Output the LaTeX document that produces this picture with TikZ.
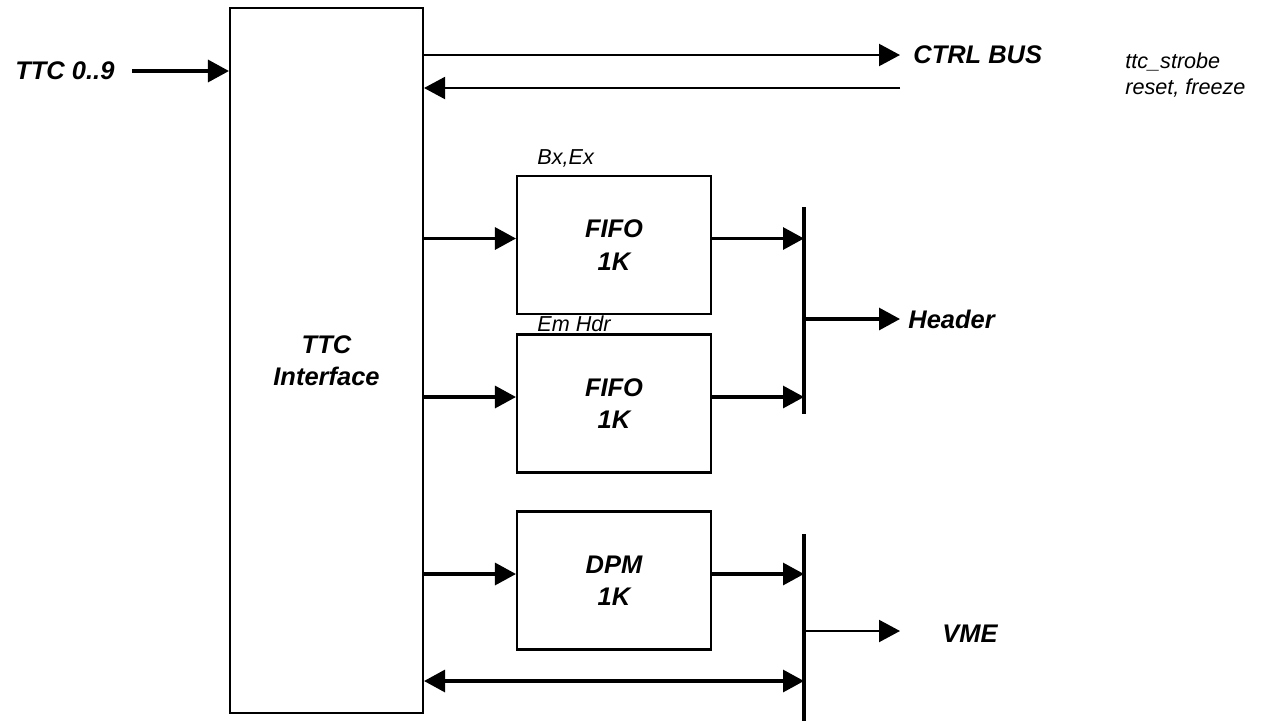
\documentclass[tikz,border=0pt]{standalone}
\usepackage{fontspec}
\setmainfont{Liberation Sans}
\usetikzlibrary{arrows.meta}
\usetikzlibrary{positioning}
\tikzset{blk/.style = {draw, line width = 1.2pt, minimum width = 3.88cm, minimum height = 2.76cm,
    align = center, font = \fontsize{14.5}{18.5}\selectfont\bfseries\itshape}}
\tikzset{lbl/.style = {anchor = west, inner sep = 0, font = \fontsize{14.5}{17}\selectfont\bfseries\itshape}}
\tikzset{note/.style = {anchor = west, inner sep = 0, font = \fontsize{12.3}{14}\selectfont\itshape}}
\tikzset{tip/.tip = {Triangle[length = 0.42cm, width = 0.44cm]}}
\tikzset{sig/.style = {line width = 1.8pt, -tip}}
\tikzset{bus/.style = {line width = 1.8pt}}

\begin{document}
\begin{tikzpicture}[x = 0.02cm, y = -0.02cm]
      \useasboundingbox (0, 0) rectangle (1263, 724);

      % interface block
      \node [blk, minimum width = 3.86cm, minimum height = 14.1cm] (ttc) at (326.5, 360.5) {TTC\\Interface};
      \node [lbl] (ttcin) at (15, 71) {TTC 0..9};
      \coordinate (ttcsrc) at (132, 71);
      \draw [sig] (ttcsrc) -- (ttc.west |- ttcsrc);

      % control bus
      \node [lbl] (ctrl) at (913, 55) {CTRL BUS};
      \coordinate (ctrlout) at (900, 55);
      \coordinate (ctrlin) at (900, 88);
      \draw [sig, line width = 1.2pt] (ttc.east |- ctrlout) -- (ctrlout);
      \draw [sig, line width = 1.2pt] (ctrlin) -- (ttc.east |- ctrlin);
      \node [note] (strobe) at (1125, 62) {ttc\_strobe};
      \node [note] (rst) at (1125, 88) {reset, freeze};

      % buffers
      \node [blk] (fifoa) at (614, 245) {FIFO\\1K};
      \node [blk] (fifob) at (614, 403.5) {FIFO\\1K};
      \node [blk] (dpm) at (614, 580.5) {DPM\\1K};
      \node [note] (bxex) at (537, 158) {Bx,Ex};
      \node [note] (emhdr) at (537, 324) {Em Hdr};

      % header and vme buses
      \coordinate (hdrtop) at (804, 207);
      \coordinate (hdrbot) at (804, 414);
      \coordinate (vmetop) at (804, 534);
      \coordinate (vmebot) at (804, 721);
      \draw [bus] (hdrtop) -- (hdrbot);
      \draw [bus] (vmetop) -- (vmebot);

      \foreach \b/\t in {fifoa/hdrtop, fifob/hdrtop, dpm/vmetop} {
        \draw [sig] ([yshift = 0.13cm] ttc.east |- \b.west) -- ([yshift = 0.13cm] \b.west);
        \draw [sig] ([yshift = 0.13cm] \b.east) -- ([yshift = 0.13cm] \b.east -| \t);
      }

      \node [lbl] (hdr) at (908, 319) {Header};
      \coordinate (hdrout) at (900, 319);
      \draw [sig] (hdrout -| hdrtop) -- (hdrout);

      \node [lbl] (vme) at (942, 634) {VME};
      \coordinate (vmeout) at (900, 631);
      \draw [sig, line width = 1.2pt] (vmeout -| vmetop) -- (vmeout);

      \coordinate (vmelink) at (804, 681);
      \draw [sig, tip-tip] (ttc.east |- vmelink) -- (vmelink);
\end{tikzpicture}
\end{document}
